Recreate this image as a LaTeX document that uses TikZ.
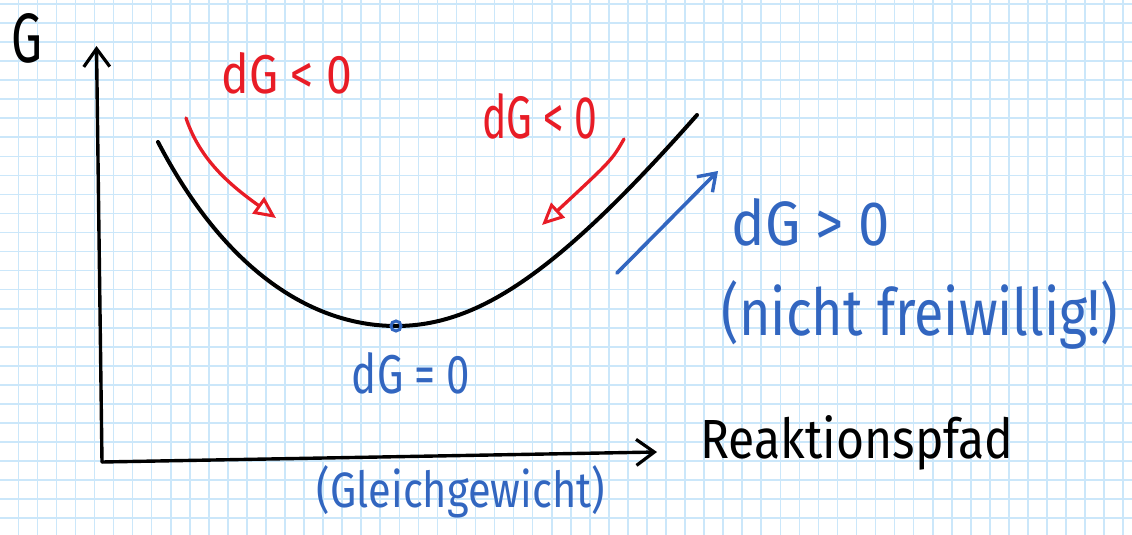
\documentclass[tikz,border=0pt]{standalone}
\usepackage{fontspec}
\setmainfont{Fira Sans}
\usetikzlibrary{arrows.meta}
\definecolor{gridblue}{RGB}{203,231,250}
\definecolor{penred}{RGB}{232,28,38}
\definecolor{penblue}{RGB}{50,102,192}
\newcommand\hw[3]{\resizebox{#1pt}{#2pt}{#3}}
\tikzset{
  pen/.style={line width=3.4pt, line cap=round, line join=round},
  axis/.style={pen, black, -{Straight Barb[length=18pt,width=26pt,line width=3.2pt]}},
  redarrow/.style={line width=3.3pt, line cap=round, penred, -{Triangle[open,length=22pt,width=20pt,line width=3pt]}},
  bluearrow/.style={line width=3.6pt, line cap=round, penblue, -{Straight Barb[length=16pt,width=22pt,line width=3.4pt]}},
  lbl/.style={inner sep=0pt, anchor=base},
}
\begin{document}
\begin{tikzpicture}[x=1pt,y=-1pt]
\useasboundingbox (0,0) rectangle (1132,535);
\fill[white] (0,0) rectangle (1132,535);
\begin{scope}
\clip (0,0) rectangle (1132,535);
\foreach \k in {-1,...,60} \draw[gridblue, line width=1.6pt] ({18.3+19.05*\k},0) -- ({18.3+19.05*\k},535);
\foreach \k in {0,...,28} \draw[gridblue, line width=1.6pt] (0,{3.9+19.05*\k}) -- (1132,{3.9+19.05*\k});
\end{scope}

% axes
\coordinate (origin) at (102,462);
\coordinate (ytip) at (96.5,46);
\coordinate (xtip) at (657,452);
\draw[axis] (origin) -- (ytip);
\draw[axis] (origin) -- (xtip);

% curve
\coordinate (cstart) at (158,142);
\coordinate (cmin) at (396,326);
\coordinate (cend) at (697,115);
\draw[pen, line width=4pt] (cstart) .. controls (230,280) and (320,326) .. (cmin)
  .. controls (480,326) and (560,270) .. (cend);
\draw[penblue, line width=3pt] (cmin) circle (5);

% arrows
\coordinate (r1s) at (186,118);
\coordinate (r1e) at (276,218);
\draw[redarrow] (r1s) .. controls (200,160) and (230,185) .. (r1e);
\coordinate (r2s) at (624,139);
\coordinate (r2e) at (542,225);
\draw[redarrow] (r2s) .. controls (612,160) .. (r2e);
\coordinate (b1s) at (617,273);
\coordinate (b1e) at (718,171);
\draw[bluearrow] (b1s) -- (b1e);

% labels
\node[lbl] (G) at (27.5,63) {\hw{31}{49}{G}};
\node[lbl, text=penred] (red1) at (287,93) {\hw{130}{41}{dG < 0}};
\node[lbl, text=penred] (red2) at (540,138) {\hw{115}{45}{dG < 0}};
\node[lbl, text=penblue] (pos) at (811,245) {\hw{158}{47}{dG > 0}};
\node[lbl, text=penblue] (nicht) at (920,335) {\hw{396}{55}{(nicht freiwillig!)}};
\node[lbl, text=penblue] (eq) at (411,393) {\hw{118}{41}{dG = 0}};
\node[lbl, text=penblue] (gleich) at (461,507) {\hw{288}{42}{(Gleichgewicht)}};
\node[lbl] (rpfad) at (857,458) {\hw{313}{43}{Reaktionspfad}};
\end{tikzpicture}
\end{document}
